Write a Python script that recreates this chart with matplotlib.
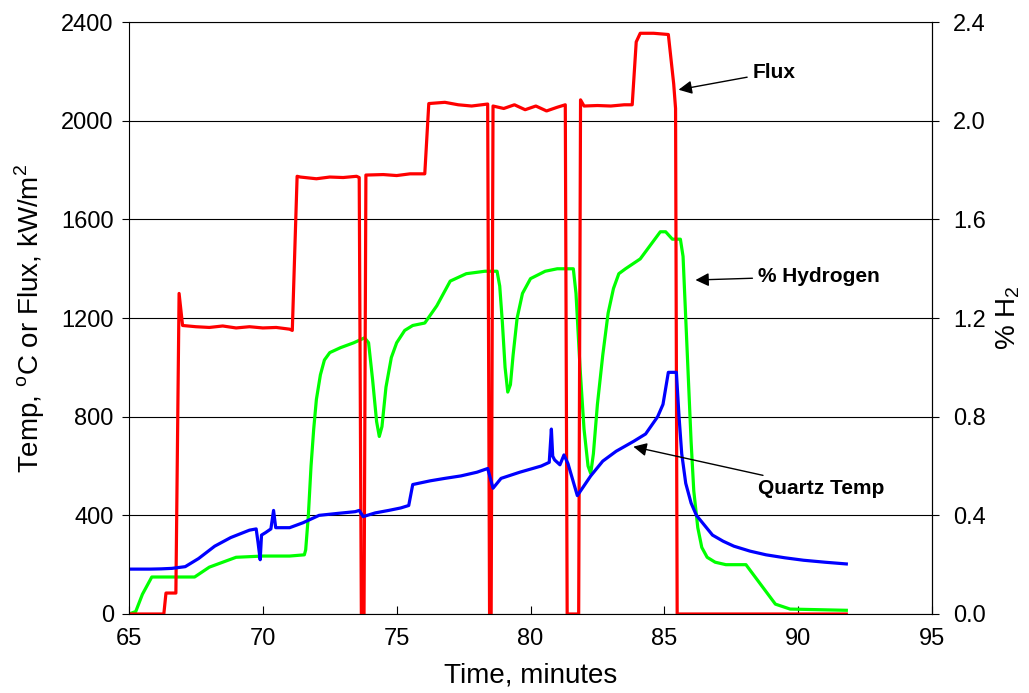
import numpy as np
import matplotlib
matplotlib.use("Agg")
import matplotlib.pyplot as plt

plt.rcParams['font.family'] = ['Liberation Sans', 'DejaVu Sans']
plt.rcParams['mathtext.fontset'] = 'custom'
plt.rcParams['mathtext.rm'] = 'Liberation Sans'

# flux, kW/m2
flux_t = [65.0, 66.3, 66.38, 66.75, 66.87, 67.0, 67.5, 68.0, 68.5, 69.0, 69.5, 70.0, 70.5, 71.0, 71.1,
          71.28, 71.4, 72.0, 72.5, 73.0, 73.5, 73.6, 73.68, 73.78, 73.85, 74.5, 75.0, 75.5, 76.05,
          76.2, 76.8, 77.3, 77.8, 78.4, 78.47, 78.53, 78.6, 79.0, 79.4, 79.8, 80.2, 80.6, 81.0, 81.3,
          81.37, 81.62, 81.8, 81.87, 82.0, 82.5, 83.0, 83.5, 83.8, 83.95, 84.1, 84.6, 85.15, 85.35,
          85.42, 85.48, 91.8]
flux_v = [0, 0, 85, 85, 1300, 1170, 1165, 1162, 1168, 1160, 1165, 1160, 1162, 1155, 1150,
          1775, 1772, 1765, 1772, 1770, 1775, 1770, 0, 0, 1780, 1782, 1778, 1785, 1785,
          2070, 2075, 2065, 2060, 2068, 0, 0, 2060, 2050, 2065, 2045, 2060, 2040, 2055, 2065,
          0, 0, 0, 2085, 2060, 2062, 2060, 2065, 2065, 2320, 2355, 2355, 2350, 2150,
          2050, 0, 0]

# quartz temperature, C
temp_t = [65.0, 65.8, 66.2, 66.6, 67.1, 67.6, 68.2, 68.8, 69.5, 69.75, 69.82, 69.9, 69.95, 70.1,
          70.3, 70.4, 70.48, 71.0, 71.5, 72.1, 72.8, 73.45, 73.6, 73.75, 74.2, 74.7, 75.15, 75.45,
          75.6, 76.25, 76.8, 77.4, 78.0, 78.4, 78.6, 78.9, 79.6, 80.4, 80.7, 80.78, 80.83, 80.9,
          81.1, 81.25, 81.4, 81.75, 82.25, 82.7, 83.2, 83.85, 84.3, 84.75, 84.95, 85.15, 85.45,
          85.55, 85.65, 85.8, 86.0, 86.2, 86.5, 86.8, 87.2, 87.6, 88.2, 88.8, 89.5, 90.2, 91.0, 91.8]
temp_v = [182, 182, 183, 185, 192, 225, 275, 310, 340, 345, 290, 220, 320, 330,
          345, 420, 350, 350, 370, 400, 408, 415, 420, 395, 410, 420, 430, 440,
          525, 540, 550, 560, 575, 590, 510, 550, 575, 600, 615, 750, 640, 625,
          605, 645, 610, 480, 560, 620, 660, 700, 730, 800, 850, 980, 980,
          800, 650, 530, 450, 400, 360, 320, 295, 275, 255, 240, 228, 218, 210, 203]

# hydrogen, %
h2_t = [65.0, 65.25, 65.5, 65.85, 67.45, 68.0, 69.0, 70.0, 71.0, 71.55,
        71.6, 71.7, 71.8, 71.9, 72.0, 72.15, 72.3, 72.5, 72.9, 73.4, 73.8,
        73.95, 74.1, 74.25, 74.35, 74.45, 74.6, 74.8, 75.0, 75.3, 75.6, 76.05, 76.5, 77.0, 77.6,
        78.3, 78.75, 78.85, 78.95, 79.05, 79.15, 79.25, 79.35, 79.5, 79.7, 80.0, 80.55, 81.0, 81.6,
        81.7, 81.85, 82.0, 82.15, 82.25, 82.35, 82.5, 82.7, 82.9, 83.1, 83.3, 83.55, 84.1, 84.85,
        85.05, 85.3, 85.6, 85.7, 85.8, 85.9, 86.0, 86.1, 86.25, 86.4, 86.6, 86.9, 87.3, 88.05,
        88.6, 89.15, 89.7, 91.8]
h2_v = [0.0, 0.01, 0.08, 0.15, 0.15, 0.19, 0.23, 0.235, 0.235, 0.24,
        0.26, 0.4, 0.6, 0.75, 0.87, 0.97, 1.03, 1.06, 1.08, 1.1, 1.12,
        1.1, 0.95, 0.78, 0.72, 0.76, 0.92, 1.04, 1.1, 1.15, 1.17, 1.18, 1.25, 1.35, 1.38,
        1.39, 1.39, 1.33, 1.18, 1.0, 0.9, 0.93, 1.05, 1.2, 1.3, 1.36, 1.39, 1.4, 1.4,
        1.3, 1.0, 0.75, 0.6, 0.57, 0.65, 0.85, 1.05, 1.22, 1.32, 1.38, 1.4, 1.44, 1.55,
        1.55, 1.52, 1.52, 1.45, 1.2, 0.95, 0.7, 0.5, 0.35, 0.27, 0.23, 0.21, 0.2, 0.2,
        0.12, 0.04, 0.02, 0.015]

fig = plt.figure(figsize=(10.29, 6.93), dpi=100)
ax = fig.add_axes([0.1254, 0.114, 0.7803, 0.854])

ax.plot(h2_t, np.array(h2_v) * 1000, color='#00ff00', lw=2.3)
ax.plot(flux_t, flux_v, color='#ff0000', lw=2.3)
ax.plot(temp_t, temp_v, color='#0000ff', lw=2.3)

ax.set_xlim(65, 95)
ax.set_ylim(0, 2400)
ax.set_xticks(range(65, 96, 5))
ax.set_yticks(range(0, 2401, 400))
ax.grid(axis='y', color='black', lw=0.8)
ax.tick_params(axis='x', direction='in', length=6, labelsize=17, pad=10)
ax.tick_params(axis='y', direction='out', length=5, labelsize=17, pad=6)
ax.set_xlabel('Time, minutes', fontsize=20, labelpad=9)
ax.set_ylabel('Temp, $^{\\mathrm{o}}$C or Flux, kW/m$^2$', fontsize=20, labelpad=10)

sec = ax.secondary_yaxis('right', functions=(lambda v: v / 1000, lambda v: v * 1000))
sec.set_yticks(np.arange(0, 2.41, 0.4))
sec.set_yticklabels([f'{v:.1f}' for v in np.arange(0, 2.41, 0.4)])
sec.tick_params(direction='out', length=5, labelsize=17, pad=10)
sec.set_ylabel('% H$_2$', fontsize=20, labelpad=6)

arrow = dict(arrowstyle='-|>', color='black', lw=1, mutation_scale=20)
ax.annotate('Flux', xy=(85.43, 2124), xytext=(88.3, 2197), fontsize=15, fontweight='bold',
            va='center', arrowprops=arrow)
ax.annotate('% Hydrogen', xy=(86.06, 1354), xytext=(88.5, 1370), fontsize=15, fontweight='bold',
            va='center', arrowprops=arrow)
ax.annotate('Quartz Temp', xy=(83.74, 681), xytext=(88.5, 510), fontsize=15, fontweight='bold',
            va='center', arrowprops=arrow)

fig.savefig('out.png', dpi=100)
